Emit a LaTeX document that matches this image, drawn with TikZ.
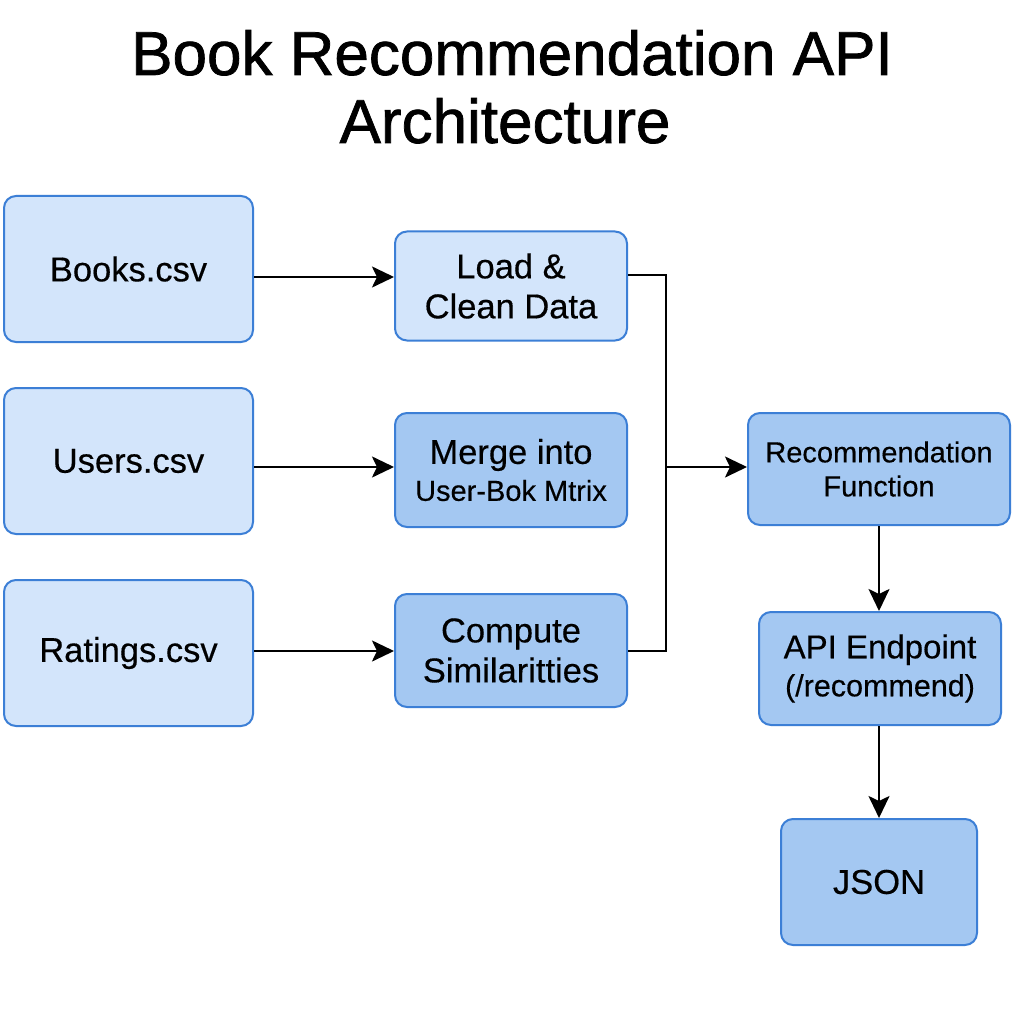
\documentclass[tikz,border=0pt]{standalone}
\usepackage{fontspec}
\setmainfont{Liberation Sans}[FakeBold=0.4]
\newfontfamily\titlefont{Liberation Sans}[FakeBold=1.2]
\usetikzlibrary{arrows.meta}
\definecolor{lightfill}{HTML}{D3E5FB}
\definecolor{darkfill}{HTML}{A4C8F2}
\definecolor{boxborder}{HTML}{3C7FD6}
\tikzset{
  box/.style={draw=boxborder, line width=2pt, rounded corners=12pt, align=center, inner sep=0pt,
              font=\fontsize{34.5}{40}\selectfont, text=black},
  lightbox/.style={box, fill=lightfill},
  darkbox/.style={box, fill=darkfill},
  conn/.style={draw=black, line width=2.3pt},
  arr/.style={conn, -{Stealth[length=22pt,width=21pt,inset=5pt]}},
  titletext/.style={font=\titlefont\fontsize{62}{68}\selectfont, anchor=base, inner sep=0pt}
}
\begin{document}
\begin{tikzpicture}[x=1pt,y=-1pt]
\useasboundingbox (0,0) rectangle (1024,1024);
\fill[white] (0,0) rectangle (1024,1024);
\node[titletext] (t1) at (512,75) {Book Recommendation API};
\node[titletext] (t2) at (505,143) {Architecture};

\node[lightbox, minimum width=249pt, minimum height=146pt] (books) at (128.5,269) {Books.csv};
\node[lightbox, minimum width=249pt, minimum height=146pt] (users) at (128.5,461) {Users.csv};
\node[lightbox, minimum width=249pt, minimum height=146pt] (ratings) at (128.5,653) {Ratings.csv};

\node[lightbox, minimum width=232pt, minimum height=109pt] (load) at (511,286) {Load \&\\Clean Data};
\node[darkbox, minimum width=232pt, minimum height=114pt] (merge) at (511,470) {\raisebox{-3pt}{Merge into}\\{\fontsize{29}{36}\selectfont User-Bok Mtrix}};
\node[darkbox, minimum width=232pt, minimum height=113pt] (compute) at (511,650.5) {Compute\\Similaritties};

\node[darkbox, minimum width=262pt, minimum height=112pt, font=\fontsize{29}{34}\selectfont] (rec) at (879,469) {\raisebox{-6pt}{Recommendation}\\\raisebox{-6pt}{Function}};
\node[darkbox, minimum width=242pt, minimum height=113pt, font=\fontsize{33}{39}\selectfont] (api) at (880,668.5) {\raisebox{-7pt}{API Endpoint}\\\raisebox{-6pt}{\fontsize{30.5}{39}\selectfont(/recommend)}};
\node[darkbox, minimum width=196pt, minimum height=126pt] (json) at (879,882) {JSON};

\draw[arr] (books.east |- 0,277) -- (load.west |- 0,277);
\draw[arr] (users.east |- 0,467) -- (merge.west |- 0,467);
\draw[arr] (ratings.east |- 0,651) -- (compute.west |- 0,651);

\coordinate (tr) at (666,467);
\draw[conn] (load.east |- 0,275) -| (tr) |- (compute.east |- 0,651);
\draw[arr] (tr) -- (rec.west |- tr);

\draw[arr] (rec.south -| 879,0) -- (api.north -| 879,0);
\draw[arr] (api.south -| 879,0) -- (json.north -| 879,0);
\end{tikzpicture}
\end{document}
